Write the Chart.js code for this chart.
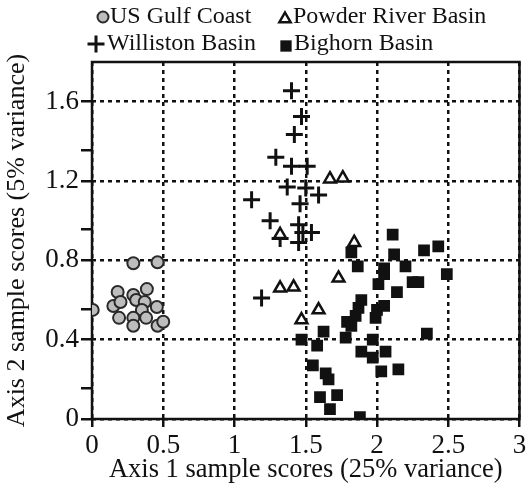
<!DOCTYPE html>
<html><head><meta charset="utf-8">
<script src="https://cdn.jsdelivr.net/npm/chart.js@4"></script>
<style>html,body{margin:0;padding:0;background:#fff}#wrap{width:531px;height:488px}</style>
</head><body><div id="wrap"><canvas id="c" width="531" height="488"></canvas></div>
<script>
const seriesNames = ['US Gulf Coast', 'Powder River Basin', 'Williston Basin', 'Bighorn Basin'];
const gulfCoast = [[0.005,0.55],[0.29,0.785],[0.46,0.79],[0.18,0.64],[0.15,0.57],[0.20,0.59],[0.19,0.51],[0.29,0.625],[0.385,0.655],[0.31,0.60],[0.37,0.59],[0.35,0.55],[0.29,0.51],[0.29,0.47],[0.38,0.51],[0.455,0.565],[0.46,0.47],[0.50,0.49]];
const powderRiver = [[1.67,1.21],[1.76,1.215],[1.32,0.93],[1.84,0.89],[1.73,0.71],[1.32,0.66],[1.415,0.665],[1.59,0.55],[1.47,0.50]];
const williston = [[1.40,1.655],[1.47,1.525],[1.42,1.435],[1.29,1.32],[1.40,1.275],[1.51,1.275],[1.37,1.17],[1.50,1.165],[1.59,1.13],[1.12,1.105],[1.46,1.085],[1.25,1.0],[1.45,0.98],[1.32,0.91],[1.48,0.94],[1.54,0.94],[1.45,0.89],[1.19,0.61]];
const bighorn = [[1.47,0.40],[1.625,0.44],[1.58,0.37],[1.55,0.27],[1.64,0.23],[1.66,0.20],[1.60,0.11],[1.72,0.12],[1.67,0.05],[1.88,0.01],[1.78,0.41],[1.79,0.49],[1.82,0.47],[1.85,0.52],[1.87,0.56],[1.89,0.60],[1.99,0.51],[2.00,0.55],[2.05,0.57],[1.97,0.40],[1.89,0.34],[1.97,0.31],[2.06,0.34],[2.03,0.24],[2.15,0.25],[2.35,0.43],[1.82,0.84],[1.865,0.77],[2.11,0.93],[2.12,0.83],[2.05,0.76],[2.05,0.73],[2.20,0.77],[2.33,0.85],[2.43,0.87],[2.49,0.73],[2.25,0.69],[2.29,0.69],[2.01,0.68],[2.14,0.64]];
const xTicks = [0, 0.5, 1, 1.5, 2, 2.5, 3];
const yMajorTicks = [0, 0.4, 0.8, 1.2, 1.6];
const yMinorTicks = [0.155, 0.555, 0.955, 1.355];
const xTitle = 'Axis 1 sample scores (25% variance)';
const yTitle = 'Axis 2 sample scores (5% variance)';

const FONT = "'Liberation Serif', 'Times New Roman', Times, serif";
const toPts = a => a.map(p => ({x: p[0], y: p[1]}));

const frameAndLegend = {
  id: 'frameAndLegend',
  beforeDatasetsDraw(chart) {
    const {ctx, chartArea: a} = chart;
    ctx.save();
    ctx.strokeStyle = '#111'; ctx.lineWidth = 2.5; ctx.setLineDash([]);
    ctx.strokeRect(a.left, a.top, a.right - a.left, a.bottom - a.top);
    ctx.restore();
  },
  afterDraw(chart) {
    const {ctx} = chart;
    const ds = chart.data.datasets;
    const items = [
      {i: 0, sx: 103, sy: 17, tx: 110, ty: 17},
      {i: 1, sx: 285, sy: 19, tx: 293, ty: 17},
      {i: 2, sx: 96, sy: 44, tx: 107, ty: 44},
      {i: 3, sx: 286, sy: 46, tx: 294, ty: 44}
    ];
    const font = Chart.helpers.toFont({family: FONT, size: 24});
    items.forEach(it => {
      const d = ds[it.i];
      ctx.save();
      ctx.setLineDash([]);
      ctx.fillStyle = d.backgroundColor; ctx.strokeStyle = d.borderColor;
      ctx.lineWidth = d.borderWidth;
      Chart.helpers.drawPoint(ctx, {pointStyle: d.pointStyle, rotation: 0, radius: d.legendRadius, borderWidth: d.borderWidth}, it.sx, it.sy);
      ctx.restore();
      ctx.save();
      ctx.fillStyle = '#111';
      ctx.font = font.string;
      ctx.textBaseline = 'middle';
      ctx.textAlign = 'left';
      ctx.fillText(d.label, it.tx, it.ty);
      ctx.restore();
    });
  }
};

new Chart(document.getElementById('c'), {
  type: 'scatter',
  data: {
    datasets: [
      {label: seriesNames[0], data: toPts(gulfCoast), pointStyle: 'circle', pointRadius: 6, backgroundColor: '#bdbdbd', borderColor: '#2a2a2a', borderWidth: 2, legendRadius: 5.5, order: 4},
      {label: seriesNames[1], data: toPts(powderRiver), pointStyle: 'triangle', pointRadius: 6.8, backgroundColor: '#ffffff', borderColor: '#111', borderWidth: 2.5, legendRadius: 6.5, order: 1},
      {label: seriesNames[2], data: toPts(williston), pointStyle: 'cross', pointRadius: 8.5, backgroundColor: '#111', borderColor: '#111', borderWidth: 3, legendRadius: 8.5, order: 2},
      {label: seriesNames[3], data: toPts(bighorn), pointStyle: 'rect', pointRadius: 8.3, backgroundColor: '#111', borderColor: '#111', borderWidth: 0, legendRadius: 8, order: 3}
    ]
  },
  options: {
    responsive: false, animation: false,
    events: [],
    layout: {padding: {top: 62, right: 10, left: 2, bottom: 2}},
    plugins: {legend: {display: false}, tooltip: {enabled: false}},
    scales: {
      x: {
        type: 'linear', min: 0, max: 3,
        afterBuildTicks: s => { s.ticks = xTicks.map(v => ({value: v})); },
        afterFit: s => { s.height = 67; },
        ticks: {color: '#111', font: {family: FONT, size: 27}, padding: 3, maxRotation: 0, callback: v => String(v)},
        grid: {color: '#111', lineWidth: 2.5, tickLength: 8, tickColor: '#111', tickWidth: 2.5},
        border: {display: false, dash: [4, 4]},
        title: {display: true, text: xTitle, color: '#111', font: {family: FONT, size: 26.5}, padding: {top: -8, bottom: 0}}
      },
      y: {
        type: 'linear', min: 0, max: 1.8,
        afterBuildTicks: s => { s.ticks = yMajorTicks.concat(yMinorTicks).sort((a,b)=>a-b).map(v => ({value: v})); },
        afterFit: s => { s.width = 90; },
        ticks: {color: '#111', font: {family: FONT, size: 27}, padding: 2, callback: v => yMajorTicks.includes(v) ? String(v) : ''},
        grid: {color: c => (c.tick && yMajorTicks.includes(c.tick.value)) ? '#111' : 'rgba(0,0,0,0)', lineWidth: 2.5, tickLength: 11, tickColor: '#111', tickWidth: 2.5},
        border: {display: false, dash: [4, 4]},
        title: {display: true, text: yTitle, color: '#111', font: {family: FONT, size: 26}, padding: {top: 0, bottom: -2}}
      }
    }
  },
  plugins: [frameAndLegend]
});
</script></body></html>
